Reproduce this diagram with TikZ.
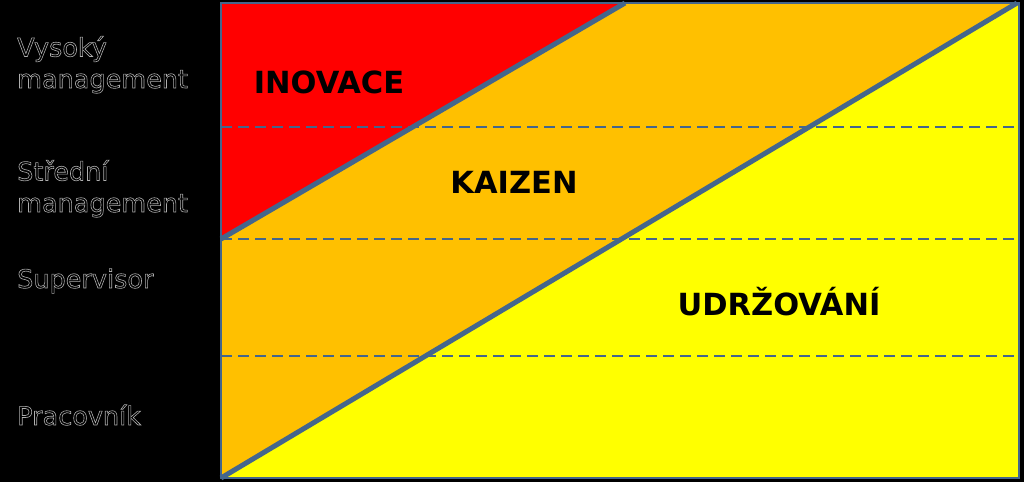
\documentclass[tikz,border=0pt]{standalone}
\usepackage{fontspec}
\setmainfont{DejaVu Sans}
\definecolor{frameblue}{RGB}{68,102,140}
\definecolor{levelgray}{RGB}{175,175,175}
\definecolor{innovred}{RGB}{255,0,0}
\definecolor{kaizenorange}{RGB}{255,192,0}
\definecolor{keepyellow}{RGB}{255,255,0}
\tikzset{
  level/.style={anchor=base west, align=left, inner sep=0pt, text=levelgray,
    font=\fontsize{25.5}{31.5}\selectfont,
    execute at begin node={\special{pdf:literal direct 1 Tr 0.6 w}},
    execute at end node={\special{pdf:literal direct 0 Tr}}},
  area/.style={inner sep=0pt, text=black, font=\fontsize{30.5}{36}\selectfont\bfseries},
  border/.style={draw=frameblue, line width=5pt, line join=round},
  divider/.style={draw=frameblue, line width=1.5pt, dash pattern=on 11pt off 6pt}
}
\begin{document}
\begin{tikzpicture}[x=1pt, y=-1pt]
    % Background
    \fill[black] (0,0) rectangle (1024,482);
    \useasboundingbox (0,0) rectangle (1024,482);

    % Corners of the frame
    \coordinate (tl) at (221,3);
    \coordinate (tr) at (1019,3);
    \coordinate (bl) at (221,478);
    \coordinate (br) at (1019,478);
    \coordinate (inovtop) at (625,3);
    \coordinate (inovleft) at (221,239);
    \coordinate (udrtop) at (1017,3);

    % Regions
    \fill[kaizenorange] (tl) rectangle (br);
    \fill[innovred] (tl) -- (inovtop) -- (inovleft) -- cycle;
    \fill[keepyellow] (bl) -- (udrtop) -- (tr) -- (br) -- cycle;

    % Level dividers
    \foreach \Y in {127,239,356} {
        \draw[divider] (221,\Y) -- (1019,\Y);
    }

    % Frame and diagonals
    \draw[draw=frameblue, line width=2pt] (tl) rectangle (br);
    \draw[border] (inovleft) -- (inovtop);
    \draw[border] (bl) -- (udrtop);

    % Level labels
    \node[level] (vysoky) at (17,88) {Vysoký\\management};
    \node[level] (stredni) at (17,212) {Střední\\management};
    \node[level] (supervisor) at (17,288) {Supervisor};
    \node[level] (pracovnik) at (17,425) {Pracovník};

    % Area labels
    \node[area] (inovace) at (329,82) {INOVACE};
    \node[area] (kaizen) at (514,182) {KAIZEN};
    \node[area] (udrzovani) at (779,302) {UDRŽOVÁNÍ};
\end{tikzpicture}
\end{document}
